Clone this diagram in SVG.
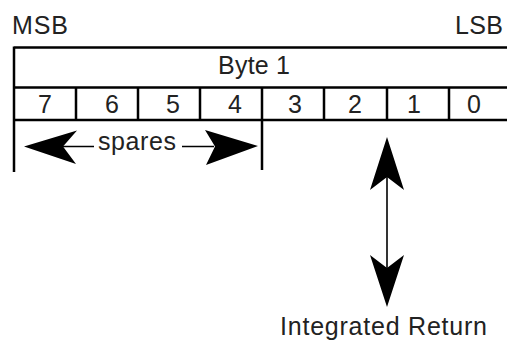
<svg xmlns="http://www.w3.org/2000/svg" width="507" height="341" viewBox="0 0 507 341">
<style>
.t{font-family:"Liberation Sans",Arial,sans-serif;font-size:25px;fill:#222}
.ln{stroke:#000;stroke-width:2.5;fill:none}
.sh{stroke:#000;stroke-width:1.6;fill:none}
.hd{fill:#000;stroke:none}
</style>
<rect width="507" height="341" fill="#fff"/>
<g id="labels">
<text class="t" x="12" y="33.5" textLength="56" lengthAdjust="spacing">MSB</text>
<text class="t" x="455" y="33.5" textLength="48" lengthAdjust="spacing">LSB</text>
</g>
<g id="byte-register">
<path class="ln" d="M14,47.5 H507 M14,87.5 H507 M14,120 H507 M14,46.5 V172 M262,87.5 V170 M76,87.5 V120 M138,87.5 V120 M200,87.5 V120 M324,87.5 V120 M387,87.5 V120 M449,87.5 V120"/>
<text class="t" x="218" y="73.5" textLength="72" lengthAdjust="spacing">Byte 1</text>
<g text-anchor="middle">
<text class="t" x="45" y="113">7</text>
<text class="t" x="112" y="113">6</text>
<text class="t" x="173" y="113">5</text>
<text class="t" x="235" y="113">4</text>
<text class="t" x="295" y="113">3</text>
<text class="t" x="355" y="113">2</text>
<text class="t" x="414" y="113">1</text>
<text class="t" x="474" y="113">0</text>
</g>
</g>
<g id="spares">
<text class="t" x="98" y="150" textLength="78" lengthAdjust="spacing">spares</text>
</g>
<g id="integrated-return">
<text class="t" x="280" y="334.5" textLength="207" lengthAdjust="spacing">Integrated Return</text>
</g>
<g id="connectors">
<path class="sh" d="M62,146.5 H94 M182,146.5 H214"/>
<path class="hd" d="M24,146.5 L77,130.5 L63,146.5 L76,164 Z"/>
<path class="hd" d="M258,146 L205,130 L215,146.5 L206,165 Z"/>
<path class="sh" d="M387,176 V270"/>
<path class="hd" d="M387,137 L404,190 L387,177 L370,190 Z"/>
<path class="hd" d="M387,307 L404,255 L387,268 L370,255 Z"/>
</g>
</svg>
